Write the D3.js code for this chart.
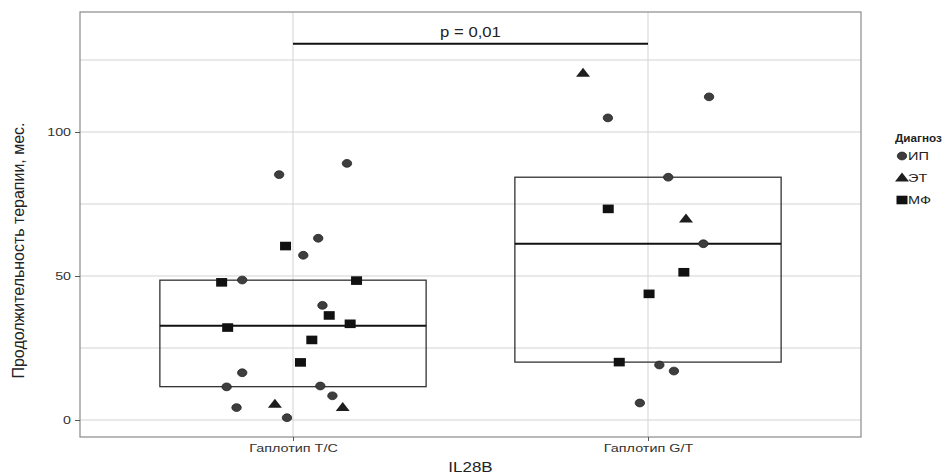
<!DOCTYPE html>
<meta charset="utf-8">
<style>
body { margin: 0; background: #fff; }
svg { display: block; font-family: "Liberation Sans", Arial, sans-serif; }
.grid line { stroke: #d3d3d3; stroke-width: 1px; }
.axis path { display: none; }
.axis line { stroke: #555; }
.axis text { fill: #333; font-size: 11.5px; }
</style>
<svg width="946" height="474"></svg>
<script src="https://cdn.jsdelivr.net/npm/d3@7"></script>
<script>

// categories
const groups = ["Гаплотип Т/С", "Гаплотип G/T"];
const diagnoses = ["ИП", "ЭТ", "МФ"];

// Гаплотип Т/С: months, diagnosis, horizontal jitter (category units)
const tcValues = [85.2, 48.6, 57.2, 89.1, 63.1, 16.4, 11.5, 4.3, 0.8, 39.8, 11.8, 8.4,
                  60.4, 47.8, 48.4, 32.1, 20.0, 36.3, 33.4, 27.8, 5.4, 4.3];
const tcDiag   = ["ИП","ИП","ИП","ИП","ИП","ИП","ИП","ИП","ИП","ИП","ИП","ИП",
                  "МФ","МФ","МФ","МФ","МФ","МФ","МФ","МФ","ЭТ","ЭТ"];
const tcJitter = [-0.039, -0.143, 0.029, 0.152, 0.071, -0.143, -0.187, -0.159, -0.017, 0.083, 0.077, 0.111,
                  -0.021, -0.201, 0.179, -0.184, 0.021, 0.102, 0.161, 0.053, -0.051, 0.140];

// Гаплотип G/T
const gtValues = [120.4, 112.2, 104.9, 84.3, 73.3, 69.8, 61.2, 51.3, 43.8, 20.1, 19.1, 17.0, 5.9];
const gtDiag   = ["ЭТ","ИП","ИП","ИП","МФ","ЭТ","ИП","МФ","МФ","МФ","ИП","ИП","ИП"];
const gtJitter = [-0.183, 0.172, -0.113, 0.057, -0.112, 0.107, 0.156, 0.101, 0.003, -0.081, 0.032, 0.073, -0.023];

const yTicks = [0, 50, 100];
const yMinor = [25, 75, 125];
const pLabel = "p = 0,01";
const pLevel = 130.6;

const svg = d3.select("svg");
const pLeft = 80, pRight = 861, pTop = 12, pBottom = 437;

const x = d3.scaleLinear().domain([0.4, 2.6]).range([pLeft, pRight]);
const y = d3.scaleLinear().domain([-5.903, 141.667]).range([pBottom, pTop]);

// stretch text horizontally, the source picture is a bit wide
function widen(sel, k) {
  sel.each(function() {
    const w = this.getComputedTextLength();
    d3.select(this).attr("textLength", w * k).attr("lengthAdjust", "spacingAndGlyphs");
  });
}

const points = [];
tcValues.forEach((v, i) => points.push({ g: 1, x: 1 + tcJitter[i], v: v, d: tcDiag[i] }));
gtValues.forEach((v, i) => points.push({ g: 2, x: 2 + gtJitter[i], v: v, d: gtDiag[i] }));

// grid
const grid = svg.append("g").attr("class", "grid");
grid.selectAll("line.h").data(yTicks.concat(yMinor)).enter().append("line")
    .attr("x1", pLeft).attr("x2", pRight)
    .attr("y1", d => y(d)).attr("y2", d => y(d));
grid.selectAll("line.v").data([1, 2]).enter().append("line")
    .attr("x1", d => x(d)).attr("x2", d => x(d))
    .attr("y1", pTop).attr("y2", pBottom);

// boxes (quartiles, no whiskers)
const boxes = [tcValues, gtValues].map((vals, i) => {
  const s = vals.slice().sort(d3.ascending);
  return { g: i + 1, q1: d3.quantile(s, 0.25), med: d3.quantile(s, 0.5), q3: d3.quantile(s, 0.75) };
});
const halfW = 0.375;
const bx = svg.append("g");
bx.selectAll("rect").data(boxes).enter().append("rect")
    .attr("x", d => x(d.g - halfW))
    .attr("width", d => x(d.g + halfW) - x(d.g - halfW))
    .attr("y", d => y(d.q3))
    .attr("height", d => y(d.q1) - y(d.q3))
    .attr("fill", "none").attr("stroke", "#333").attr("stroke-width", 1.3);
bx.selectAll("line").data(boxes).enter().append("line")
    .attr("x1", d => x(d.g - halfW)).attr("x2", d => x(d.g + halfW))
    .attr("y1", d => y(d.med)).attr("y2", d => y(d.med))
    .attr("stroke", "#111").attr("stroke-width", 2);

// points
function drawShape(sel, kind) {
  if (kind === "ИП") {
    sel.append("ellipse").attr("rx", 4.7).attr("ry", 3.9)
      .attr("fill", "#3e3e3e").attr("stroke", "#222").attr("stroke-width", 0.8);
  } else if (kind === "ЭТ") {
    sel.append("path").attr("d", "M0,-5.6L7,3.4L-7,3.4Z").attr("fill", "#1e1e1e");
  } else {
    sel.append("rect").attr("x", -5.5).attr("y", -4.3).attr("width", 11).attr("height", 8.6)
      .attr("fill", "#111");
  }
}
const pts = svg.append("g").selectAll("g").data(points).enter().append("g")
    .attr("transform", d => "translate(" + x(d.x) + "," + y(d.v) + ")");
pts.each(function(d) { drawShape(d3.select(this), d.d); });

// panel border
svg.append("rect")
    .attr("x", pLeft).attr("y", pTop).attr("width", pRight - pLeft).attr("height", pBottom - pTop)
    .attr("fill", "none").attr("stroke", "#8a8a8a").attr("stroke-width", 1.2);

// axes
const yAxis = svg.append("g").attr("class", "axis")
    .attr("transform", "translate(" + pLeft + ",0)")
    .call(d3.axisLeft(y).tickValues(yTicks).tickSize(5).tickPadding(4));
widen(yAxis.selectAll("text"), 1.24);

const xAxis = svg.append("g").attr("class", "axis")
    .attr("transform", "translate(0," + pBottom + ")")
    .call(d3.axisBottom(x).tickValues([1, 2]).tickSize(4).tickPadding(3)
      .tickFormat(d => groups[d - 1]));
widen(xAxis.selectAll("text"), 1.25);

// significance bar
svg.append("line")
    .attr("x1", x(1)).attr("x2", x(2))
    .attr("y1", y(pLevel)).attr("y2", y(pLevel))
    .attr("stroke", "#111").attr("stroke-width", 2);
const pt = svg.append("text")
    .attr("x", (x(1) + x(2)) / 2).attr("y", y(pLevel) - 7)
    .attr("text-anchor", "middle").attr("font-size", "14.5px").attr("fill", "#222")
    .text(pLabel);
widen(pt, 1.15);

// axis titles
const xt = svg.append("text")
    .attr("x", (x(1) + x(2)) / 2).attr("y", 472)
    .attr("text-anchor", "middle").attr("font-size", "15px").attr("fill", "#222")
    .text("IL28B");
widen(xt, 1.13);

const yt = svg.append("text")
    .attr("transform", "translate(24," + ((pTop + pBottom) / 2 + 26) + ") rotate(-90) scale(1,1.2)")
    .attr("text-anchor", "middle").attr("font-size", "14.5px").attr("fill", "#222")
    .text("Продолжительность терапии, мес.");
yt.attr("textLength", 256).attr("lengthAdjust", "spacingAndGlyphs");

// legend
const lg = svg.append("g").attr("transform", "translate(895,0)");
const lt = lg.append("text").attr("x", 0).attr("y", 142)
    .attr("font-size", "10px").attr("font-weight", "bold").attr("fill", "#222")
    .text("Диагноз");
widen(lt, 1.17);
const items = lg.selectAll("g.item").data(diagnoses).enter().append("g")
    .attr("transform", (d, i) => "translate(7," + (156 + i * 22) + ")");
items.each(function(d) { drawShape(d3.select(this), d); });
const itx = items.append("text").attr("x", 6).attr("y", 3.6)
    .attr("font-size", "10px").attr("fill", "#222")
    .text(d => d);
widen(itx, 1.45);

</script>
